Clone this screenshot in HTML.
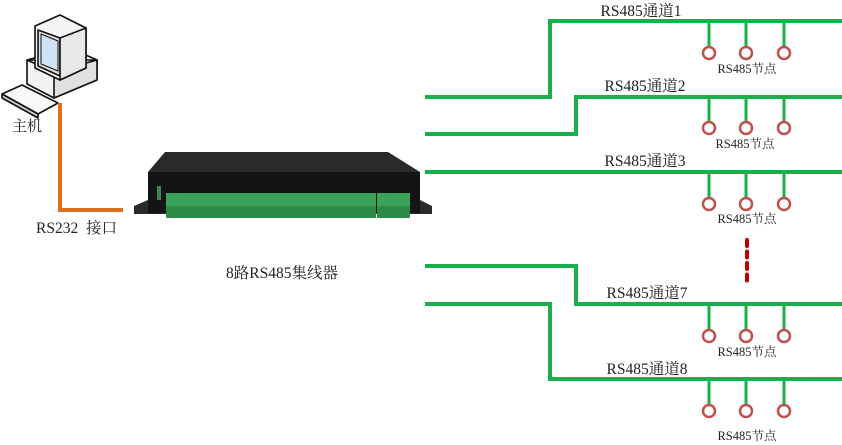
<!DOCTYPE html>
<html><head><meta charset="utf-8"><style>
html,body{margin:0;padding:0;background:#fff;}
svg{display:block;}
text{font-family:"Liberation Serif","Noto Serif CJK SC",serif;fill:#222;}
</style></head><body>
<svg width="842" height="445" viewBox="0 0 842 445" xmlns="http://www.w3.org/2000/svg">
<!-- computer -->
<g stroke="#111" stroke-width="1.6" stroke-linejoin="round">
 <polygon points="27,60 70,48 97,60 97,80 54,98 27,84" fill="#f2f2f2"/>
 <polygon points="27,60 54,72 97,60" fill="#fafafa"/>
 <polygon points="54,72 97,60 97,80 54,98" fill="#e0e0e0"/>
 <polygon points="35,26 60,15 86,28 86,68 60,80 35,68" fill="#f4f4f4"/>
 <polygon points="38,30 60,38 60,76 38,66" fill="#ddd"/>
 <polygon points="41,34 58,41 58,71 41,64" fill="#cfe3f5" stroke-width="1"/>
 <polygon points="60,38 86,28 86,68 60,80" fill="#e8e8e8"/>
 <polygon points="2,94 22,85 58,103 38,114" fill="#f8f8f8"/>
 <polygon points="2,94 38,114 38,118 2,98" fill="#ccc"/>
</g>
<!-- orange line -->
<polyline points="60,103 60,210 123,210" fill="none" stroke="#e07020" stroke-width="4"/>
<text x="12" y="131" font-size="15">主机</text>
<text x="36" y="233" font-size="15.5" xml:space="preserve">RS232  接口</text>
<!-- device -->
<polygon points="134,206 148,200 420,200 432,206 432,214 134,214" fill="#2a2a2a"/>
<polygon points="165,152 388,152 420,172 148,172" fill="#2a2a2a"/>
<rect x="148" y="172" width="272" height="41" fill="#141414"/>
<rect x="166" y="193" width="210" height="25" fill="#3aa35a"/>
<rect x="166" y="206" width="210" height="12" fill="#2e8a48"/>
<rect x="377" y="193" width="33" height="25" fill="#3aa35a"/>
<rect x="377" y="206" width="33" height="12" fill="#2e8a48"/>
<rect x="157" y="186" width="4" height="14" fill="#3a8a50"/>
<text x="282" y="278" font-size="15.5" text-anchor="middle">8路RS485集线器</text>
<!-- green buses -->
<g fill="none" stroke="#18b04c" stroke-width="4">
 <polyline points="425,97 550,97 550,21 842,21"/>
 <polyline points="425,134 576,134 576,97 842,97"/>
 <polyline points="425,172 842,172"/>
 <polyline points="425,266 576,266 576,304 842,304"/>
 <polyline points="425,304 550,304 550,379 842,379"/>
</g>
<g stroke="#18b04c" stroke-width="3">
 <line x1="709" y1="21" x2="709" y2="47"/><line x1="746" y1="21" x2="746" y2="47"/><line x1="784" y1="21" x2="784" y2="47"/>
 <line x1="709" y1="97" x2="709" y2="122"/><line x1="746" y1="97" x2="746" y2="122"/><line x1="784" y1="97" x2="784" y2="122"/>
 <line x1="709" y1="172" x2="709" y2="198"/><line x1="746" y1="172" x2="746" y2="198"/><line x1="784" y1="172" x2="784" y2="198"/>
 <line x1="709" y1="304" x2="709" y2="330"/><line x1="746" y1="304" x2="746" y2="330"/><line x1="784" y1="304" x2="784" y2="330"/>
 <line x1="709" y1="379" x2="709" y2="405"/><line x1="746" y1="379" x2="746" y2="405"/><line x1="784" y1="379" x2="784" y2="405"/>
</g>
<g fill="#fff" stroke="#c0504d" stroke-width="2.5">
 <circle cx="709" cy="53" r="6"/><circle cx="746" cy="53" r="6"/><circle cx="784" cy="53" r="6"/>
 <circle cx="709" cy="128" r="6"/><circle cx="746" cy="128" r="6"/><circle cx="784" cy="128" r="6"/>
 <circle cx="709" cy="204" r="6"/><circle cx="746" cy="204" r="6"/><circle cx="784" cy="204" r="6"/>
 <circle cx="709" cy="336" r="6"/><circle cx="746" cy="336" r="6"/><circle cx="784" cy="336" r="6"/>
 <circle cx="709" cy="411" r="6"/><circle cx="746" cy="411" r="6"/><circle cx="784" cy="411" r="6"/>
</g>
<line x1="747" y1="240" x2="747" y2="282" stroke="#c00000" stroke-width="4" stroke-dasharray="6,5.5" stroke-linecap="round"/>
<g font-size="15.5" text-anchor="middle">
 <text x="641" y="16">RS485通道1</text>
 <text x="645" y="91">RS485通道2</text>
 <text x="645" y="166">RS485通道3</text>
 <text x="647" y="298">RS485通道7</text>
 <text x="647" y="374">RS485通道8</text>
</g>
<g font-size="12.5" text-anchor="middle">
 <text x="747" y="73">RS485节点</text>
 <text x="745" y="148">RS485节点</text>
 <text x="747" y="223">RS485节点</text>
 <text x="747" y="356">RS485节点</text>
 <text x="747" y="440">RS485节点</text>
</g>
</svg>
</body></html>
